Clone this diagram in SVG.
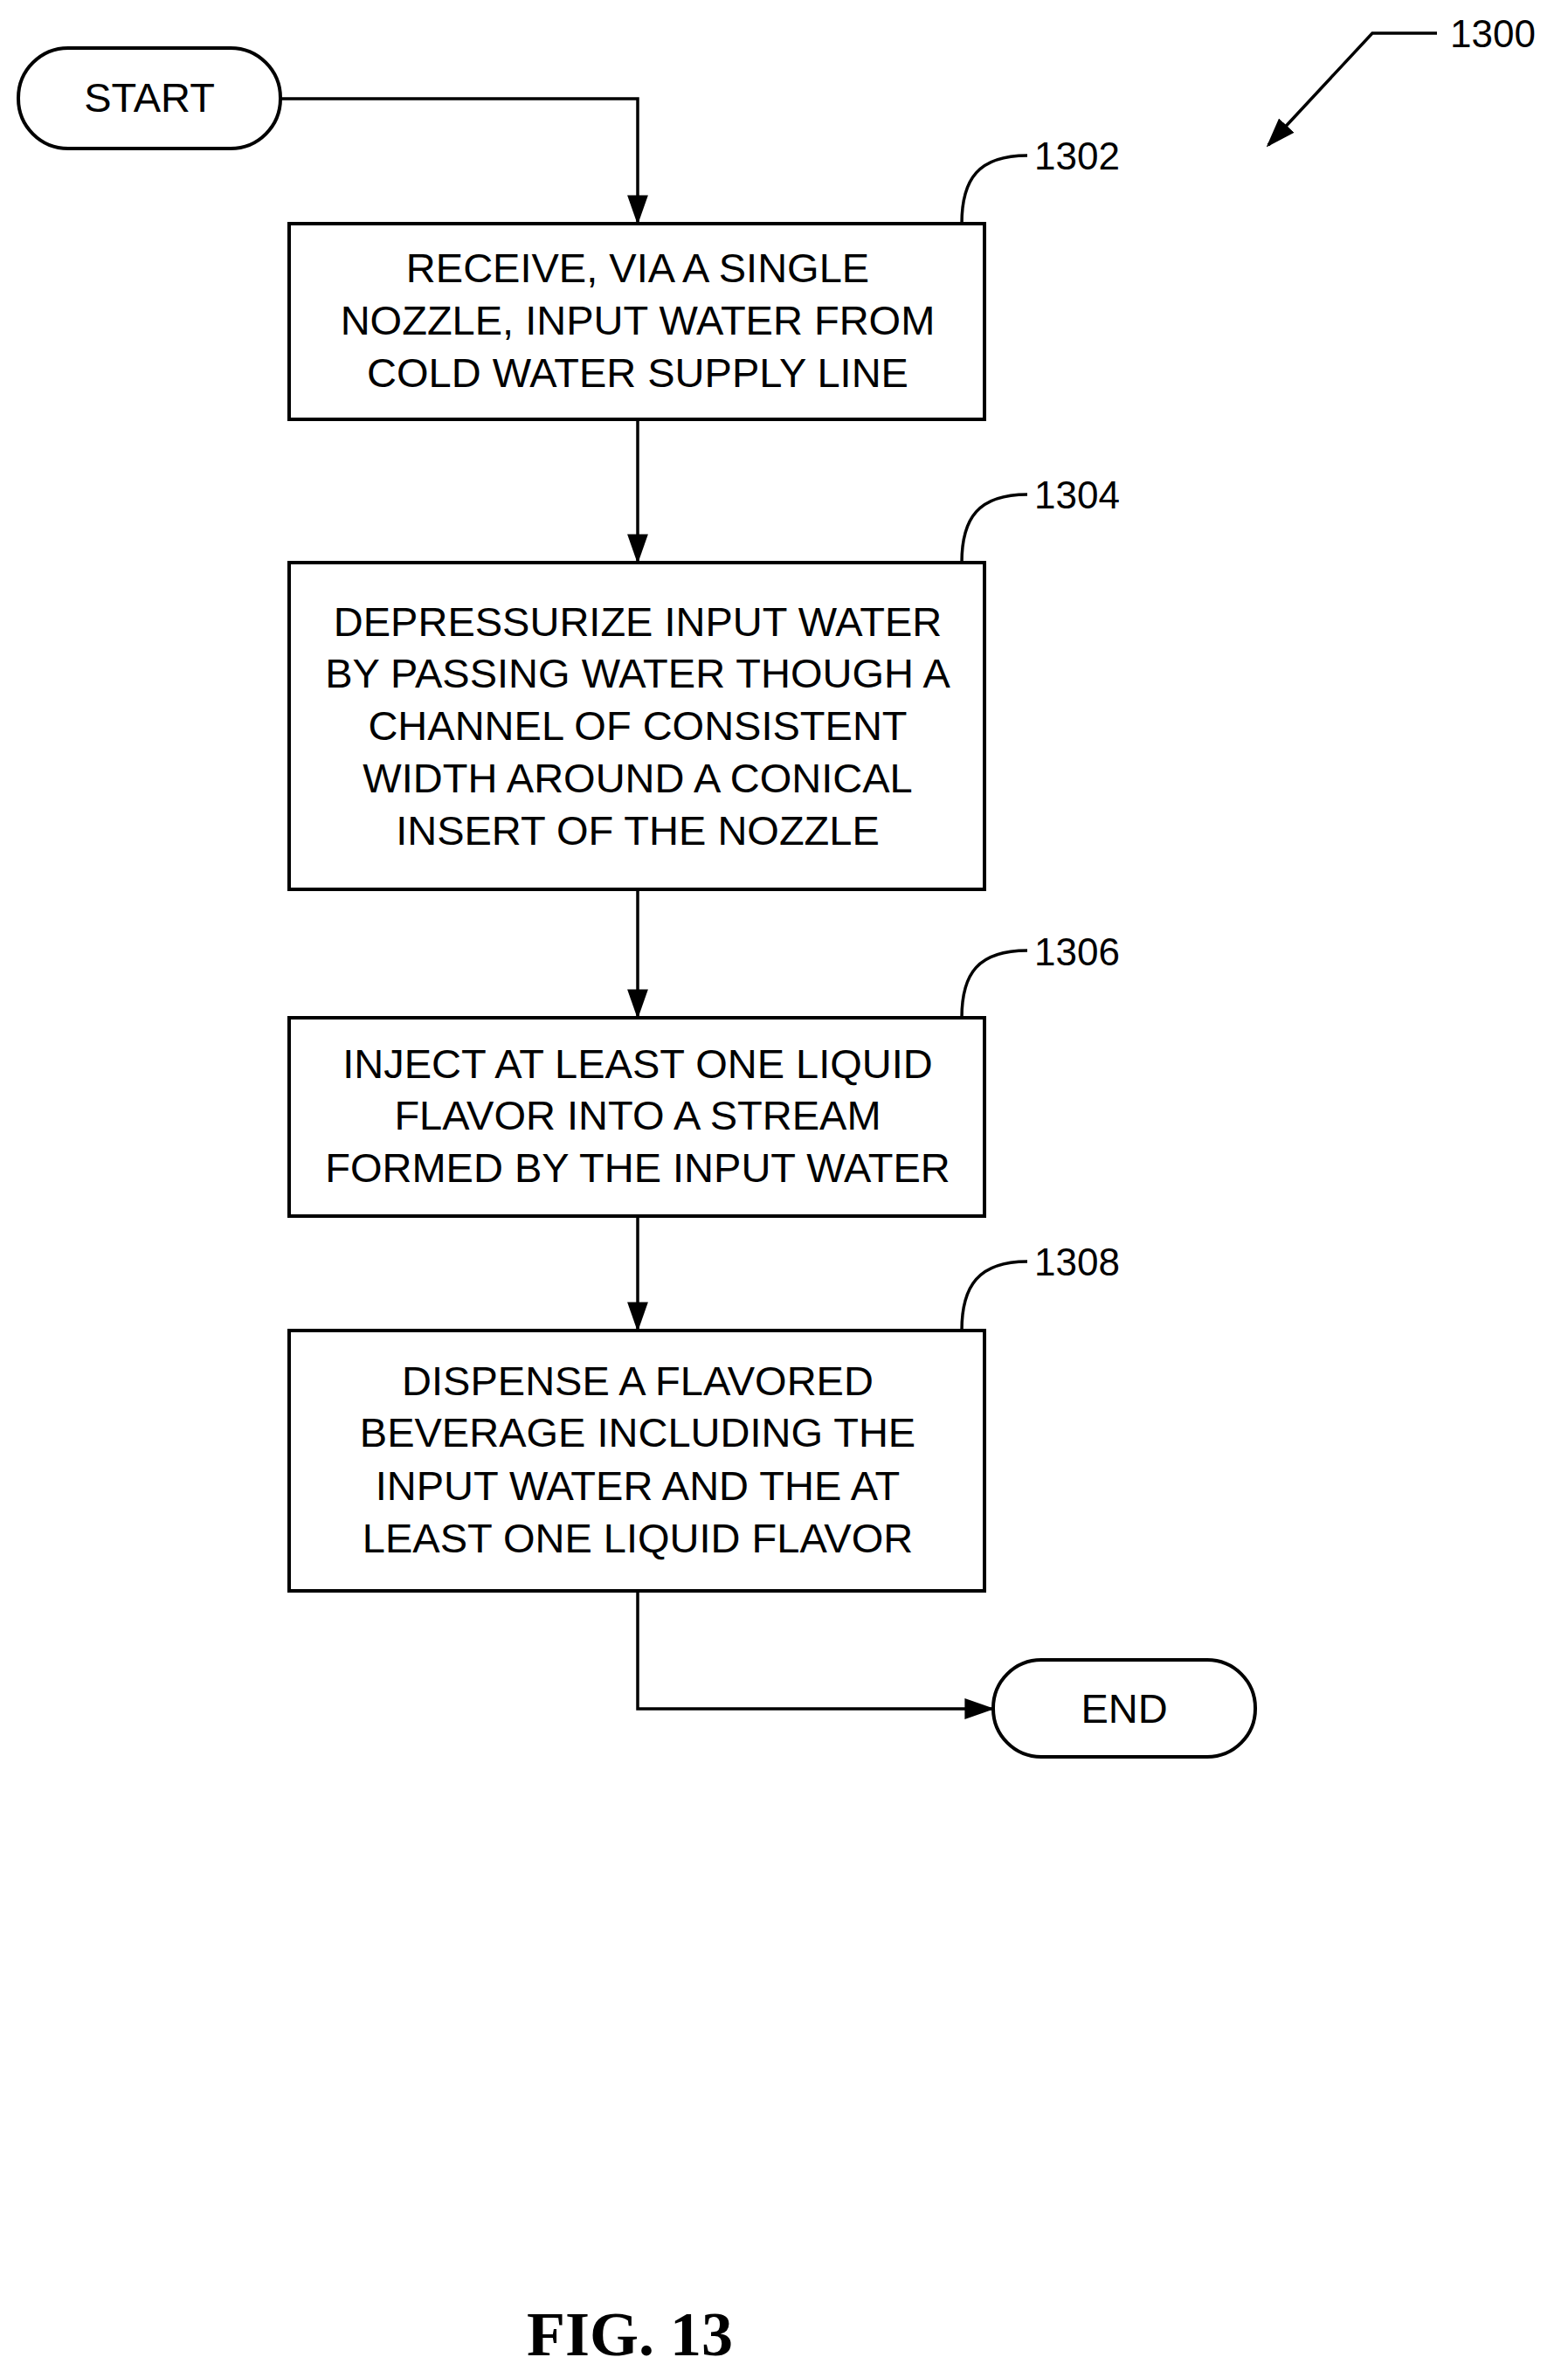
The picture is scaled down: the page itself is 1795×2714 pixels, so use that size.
<svg xmlns="http://www.w3.org/2000/svg" width="1795" height="2714" viewBox="0 0 1795 2714">
<style>
.b{fill:#fff;stroke:#000;stroke-width:4}
.t{font-family:"Liberation Sans",Arial,sans-serif;font-size:47px;text-anchor:middle;fill:#000}
.l{font-family:"Liberation Sans",Arial,sans-serif;font-size:44px;fill:#000}
.c{fill:none;stroke:#000;stroke-width:3.5}
</style>
<defs><marker id="a" markerWidth="12" markerHeight="10" refX="11" refY="5" orient="auto" markerUnits="userSpaceOnUse" viewBox="0 0 12 10"><path d="M0,0L12,5L0,10z" fill="#000"/></marker>
<marker id="m" viewBox="0 0 10 10" refX="9" refY="5" markerWidth="34" markerHeight="34" markerUnits="userSpaceOnUse" orient="auto"><path d="M0,1.5L10,5L0,8.5z"/></marker></defs>
<g id="connectors">
<path class="c" d="M321,113H730V254" marker-end="url(#m)"/>
<path class="c" d="M730,480V642" marker-end="url(#m)"/>
<path class="c" d="M730,1018V1163" marker-end="url(#m)"/>
<path class="c" d="M730,1392V1521" marker-end="url(#m)"/>
<path class="c" d="M730,1821V1956H1135" marker-end="url(#m)"/>
<path class="c" d="M1645,38H1571L1452,166" marker-end="url(#m)"/>
<path class="c" d="M1101,256C1101,205 1120,178 1176,178"/>
<path class="c" d="M1101,644C1101,593 1120,566 1176,566"/>
<path class="c" d="M1101,1165C1101,1114 1120,1088 1176,1088"/>
<path class="c" d="M1101,1523C1101,1472 1120,1444 1176,1444"/>
</g>
<text class="l" x="1660" y="54">1300</text>
<g id="start"><rect class="b" x="21" y="55" width="300" height="115" rx="57"/><text class="t" x="171" y="128">START</text></g>
<g id="n1302"><rect class="b" x="331" y="256" width="796" height="224"/>
<text class="l" x="1184" y="194">1302</text>
<text class="t" x="730" y="323">RECEIVE, VIA A SINGLE</text><text class="t" x="730" y="383">NOZZLE, INPUT WATER FROM</text><text class="t" x="730" y="443">COLD WATER SUPPLY LINE</text></g>
<g id="n1304"><rect class="b" x="331" y="644" width="796" height="374"/>
<text class="l" x="1184" y="582">1304</text>
<text class="t" x="730" y="728">DEPRESSURIZE INPUT WATER</text><text class="t" x="730" y="787">BY PASSING WATER THOUGH A</text><text class="t" x="730" y="847">CHANNEL OF CONSISTENT</text><text class="t" x="730" y="907">WIDTH AROUND A CONICAL</text><text class="t" x="730" y="967">INSERT OF THE NOZZLE</text></g>
<g id="n1306"><rect class="b" x="331" y="1165" width="796" height="227"/>
<text class="l" x="1184" y="1105">1306</text>
<text class="t" x="730" y="1234">INJECT AT LEAST ONE LIQUID</text><text class="t" x="730" y="1293">FLAVOR INTO A STREAM</text><text class="t" x="730" y="1353">FORMED BY THE INPUT WATER</text></g>
<g id="n1308"><rect class="b" x="331" y="1523" width="796" height="298"/>
<text class="l" x="1184" y="1460">1308</text>
<text class="t" x="730" y="1597">DISPENSE A FLAVORED</text><text class="t" x="730" y="1656">BEVERAGE INCLUDING THE</text><text class="t" x="730" y="1717">INPUT WATER AND THE AT</text><text class="t" x="730" y="1777">LEAST ONE LIQUID FLAVOR</text></g>
<g id="end"><rect class="b" x="1137" y="1900" width="300" height="111" rx="55"/><text class="t" x="1287" y="1972">END</text></g>
<text x="721" y="2696" font-family="Liberation Serif,serif" font-weight="bold" font-size="72" text-anchor="middle">FIG. 13</text>
</svg>
